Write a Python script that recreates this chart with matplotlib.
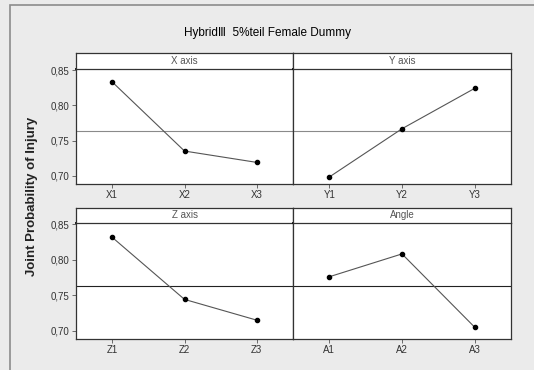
import numpy as np
import matplotlib
matplotlib.use('Agg')
import matplotlib.pyplot as plt
from matplotlib.patches import Rectangle

plt.rcParams['font.family'] = ['Liberation Sans', 'DejaVu Sans']

# main effects of each factor
factors = ['X axis', 'Y axis', 'Z axis', 'Angle']
levels = [['X1', 'X2', 'X3'], ['Y1', 'Y2', 'Y3'], ['Z1', 'Z2', 'Z3'], ['A1', 'A2', 'A3']]
x_eff = [0.8336, 0.7350, 0.7188]
y_eff = [0.6980, 0.7668, 0.8244]
z_eff = [0.8318, 0.7440, 0.7146]
a_eff = [0.7760, 0.8083, 0.7047]
yticks = [0.70, 0.75, 0.80, 0.85]
ytick_labels = ['0,70', '0,75', '0,80', '0,85']

effects = [x_eff, y_eff, z_eff, a_eff]
grand_mean = np.mean(x_eff + y_eff + z_eff + a_eff)

W, H = 534, 370
fig = plt.figure(figsize=(W / 100, H / 100), dpi=100)
fig.patch.set_facecolor('#ebebeb')

# outer frame
fig.patches.append(Rectangle((10 / W, -0.05), 1.1, (H - 5) / H + 0.05,
                             transform=fig.transFigure, fill=False,
                             edgecolor='#8c8c8c', lw=1.2))


def fx(px):
    return px / W


def fy(px):
    return 1 - px / H


cols = [(76, 293), (293, 511)]
rows = [(53, 69, 184), (208, 223, 339)]
ref_colors = ['#8a8a8a', '#222222']

for i in range(4):
    r, c = divmod(i, 2)
    l, rr = cols[c]
    st, dt, db = rows[r]
    ax = fig.add_axes([fx(l), fy(db), fx(rr - l), (db - dt) / H])
    sax = fig.add_axes([fx(l), fy(dt), fx(rr - l), (dt - st) / H])

    pos = np.arange(1, 4)
    ax.plot(pos, effects[i], color='#555555', lw=0.8, marker='o',
            markersize=3, markerfacecolor='black', markeredgecolor='black', zorder=3)
    ax.axhline(grand_mean, color=ref_colors[r], lw=0.8, zorder=1)
    ax.set_xlim(0.5, 3.5)
    ax.set_ylim(0.688, 0.852)
    ax.set_xticks(pos)
    ax.set_xticklabels(levels[i], fontsize=7, color='#333333')
    ax.tick_params(axis='x', length=3, width=0.6, color='#555555', pad=1.5)
    if c == 0:
        ax.set_yticks(yticks)
        ax.set_yticklabels(ytick_labels, fontsize=7, color='#333333')
        ax.tick_params(axis='y', length=3, width=0.6, color='#555555', pad=1.5)
    else:
        ax.set_yticks([])
    for s in ax.spines.values():
        s.set_color('#333333')
        s.set_linewidth(0.9)
    ax.spines['top'].set_linewidth(1.3)
    ax.spines['top'].set_color('black')

    sax.set_xticks([])
    sax.set_yticks([])
    sax.set_facecolor('white')
    for s in sax.spines.values():
        s.set_color('#333333')
        s.set_linewidth(0.9)
    sax.text(0.5, 0.5, factors[i], ha='center', va='center', fontsize=7,
             color='#555555', transform=sax.transAxes)

fig.text(fx(267), fy(33), 'Hybrid\u2162  5%teil Female Dummy', ha='center',
         va='center', fontsize=8.5, color='black')
fig.text(fx(32), fy(196), 'Joint Probability of Injury', rotation=90,
         ha='center', va='center', fontsize=9.5, fontweight='bold', color='#222222')

fig.savefig('out.png', dpi=100, facecolor=fig.get_facecolor())
